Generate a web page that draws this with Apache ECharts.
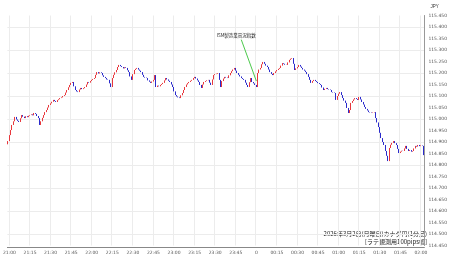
<!DOCTYPE html>
<html><head><meta charset="utf-8">
<script src="https://cdn.jsdelivr.net/npm/echarts@6/dist/echarts.min.js"></script>
<style>html,body{margin:0;padding:0;background:#fff}#c{width:450px;height:258px}</style>
</head><body><div id="c"></div>
<script>
// ---- data (1-minute candles, CAD/JPY) ----
const startHour = 20, startMinute = 59;
const firstOpen = 114.890;
const closes = [
114.904,114.930,114.952,114.974,114.990,115.009,114.998,114.992,114.987,115.003,
115.017,115.010,115.004,115.012,115.008,115.014,115.017,115.020,115.016,115.026,
115.022,115.013,115.004,114.974,114.990,115.005,115.017,115.030,115.039,115.050,
115.061,115.068,115.075,115.083,115.078,115.074,115.082,115.086,115.091,115.094,
115.100,115.104,115.115,115.126,115.138,115.148,115.157,115.161,115.142,115.126,
115.120,115.117,115.128,115.135,115.130,115.134,115.139,115.150,115.161,115.158,
115.165,115.170,115.174,115.178,115.192,115.204,115.198,115.203,115.200,115.190,
115.183,115.178,115.172,115.170,115.155,115.139,115.178,115.192,115.203,115.213,
115.226,115.235,115.230,115.226,115.220,115.225,115.222,115.212,115.204,115.185,
115.170,115.195,115.213,115.218,115.222,115.215,115.210,115.204,115.192,115.183,
115.180,115.178,115.168,115.162,115.157,115.163,115.170,115.191,115.139,115.145,
115.142,115.148,115.152,115.157,115.168,115.178,115.172,115.166,115.161,115.150,
115.139,115.120,115.104,115.098,115.094,115.091,115.103,115.113,115.126,115.139,
115.150,115.156,115.161,115.166,115.170,115.178,115.183,115.176,115.168,115.161,
115.148,115.135,115.150,115.161,115.165,115.168,115.170,115.158,115.148,115.172,
115.191,115.195,115.197,115.200,115.170,115.139,115.165,115.176,115.183,115.180,
115.178,115.190,115.200,115.208,115.215,115.222,115.210,115.200,115.192,115.185,
115.178,115.174,115.170,115.158,115.148,115.139,115.160,115.178,115.161,115.155,
115.148,115.139,115.200,115.215,115.222,115.238,115.248,115.240,115.232,115.226,
115.215,115.204,115.196,115.191,115.200,115.207,115.213,115.218,115.222,115.232,
115.243,115.240,115.236,115.235,115.246,115.257,115.262,115.265,115.240,115.213,
115.220,115.226,115.235,115.228,115.222,115.215,115.210,115.204,115.195,115.183,
115.170,115.157,115.165,115.170,115.165,115.161,115.156,115.152,115.148,115.137,
115.126,115.131,115.135,115.130,115.128,115.126,115.117,115.115,115.113,115.083,
115.100,115.110,115.117,115.104,115.091,115.080,115.070,115.048,115.026,115.039,
115.070,115.078,115.085,115.091,115.087,115.083,115.096,115.085,115.074,115.063,
115.052,115.044,115.037,115.030,115.028,115.026,115.028,115.030,115.004,114.985,
114.965,114.940,114.917,114.900,114.887,114.861,114.840,114.817,114.874,114.888,
114.896,114.904,114.895,114.887,114.870,114.852,114.858,114.862,114.861,114.872,
114.883,114.870,114.861,114.865,114.858,114.861,114.872,114.883,114.880,114.887,
114.882,114.885,114.883,114.843
];
const eventLabel = 'ISM製造業景況指数';
const eventTime = '00:00', eventPrice = 115.165;
const calloutTime = '23:49', calloutPrice = 115.345;
const captionLines = ['2026年3月2日(月曜日)カナダ円(1分足)', '[ラテ観測用100pips幅]'];
const currencyUnit = 'JPY';
const yMin = 114.45, yMax = 115.45, yStep = 0.05;
const timeLabelOverrides = { '00:00': '0' };

// ---- build ----
const categories = [];
{ let h = startHour, m = startMinute;
  for (let i = 0; i < closes.length; i++) {
    categories.push(String(h).padStart(2,'0') + ':' + String(m).padStart(2,'0'));
    m++; if (m === 60) { m = 0; h = (h + 1) % 24; }
  } }
const candles = closes.map((c, i) => {
  const o = i === 0 ? firstOpen : closes[i-1];
  return [o, c, Math.min(o, c), Math.max(o, c)];
});
const isQuarter = (idx, val) => /:(00|15|30|45)$/.test(val);

const chart = echarts.init(document.getElementById('c'), null, {renderer: 'canvas'});
chart.setOption({
  animation: false,
  backgroundColor: '#ffffff',
  grid: { left: 0, right: 21, top: 15.5, height: 230, containLabel: false },
  xAxis: {
    type: 'category', data: categories, boundaryGap: true, offset: 1.5,
    axisLine: { show: true, lineStyle: { color: '#888', width: 1 } },
    axisTick: { show: false },
    axisLabel: { interval: isQuarter, fontSize: 4.5, color: '#555', margin: 3,
      fontFamily: 'DejaVu Sans',
      formatter: v => timeLabelOverrides[v] !== undefined ? timeLabelOverrides[v] : v },
    splitLine: { show: true, interval: isQuarter, lineStyle: { color: '#ececec', width: 1 } }
  },
  yAxis: {
    type: 'value', position: 'right', min: yMin, max: yMax, interval: yStep,
    name: currencyUnit, nameLocation: 'end', nameGap: 6,
    nameTextStyle: { fontSize: 4.5, color: '#333', align: 'left', padding: [0,0,0,6] },
    axisLine: { show: true, lineStyle: { color: '#999', width: 1 } },
    axisTick: { show: false },
    axisLabel: { fontSize: 4.5, color: '#555', margin: 4, fontFamily: 'DejaVu Sans',
      formatter: v => v.toFixed(3) },
    splitLine: { show: true, lineStyle: { color: ['rgba(0,0,0,0)', '#ececec'], width: 1 } }
  },
  series: [{
    type: 'candlestick', data: candles, barWidth: 1.3,
    itemStyle: { color: '#e8383d', color0: '#2b2bcc', borderColor: '#e8383d', borderColor0: '#2b2bcc', borderWidth: 1 },
    markLine: {
      silent: true, symbol: ['none', 'none'], animation: false,
      label: { show: false },
      lineStyle: { color: '#4cc94c', width: 1, type: 'solid' },
      data: [[ { coord: [calloutTime, calloutPrice] }, { coord: [eventTime, eventPrice] } ]]
    },
    markPoint: {
      silent: true, symbol: 'circle', symbolSize: 0, animation: false,
      data: [{ coord: [calloutTime, calloutPrice],
        label: { show: true, formatter: eventLabel, position: 'top', distance: 2, offset: [-5, 0],
          fontSize: 4.5, color: '#222', fontFamily: 'Noto Sans CJK JP' } }]
    }
  }],
  graphic: [
    { type: 'text', right: 23, top: 231, style: { text: captionLines[0], fontSize: 6, fill: '#222', fontFamily: 'Noto Sans CJK JP', textAlign: 'right' } },
    { type: 'text', right: 23, top: 238.5, style: { text: captionLines[1], fontSize: 6, fill: '#222', fontFamily: 'Noto Sans CJK JP', textAlign: 'right' } }
  ]
});
</script></body></html>
